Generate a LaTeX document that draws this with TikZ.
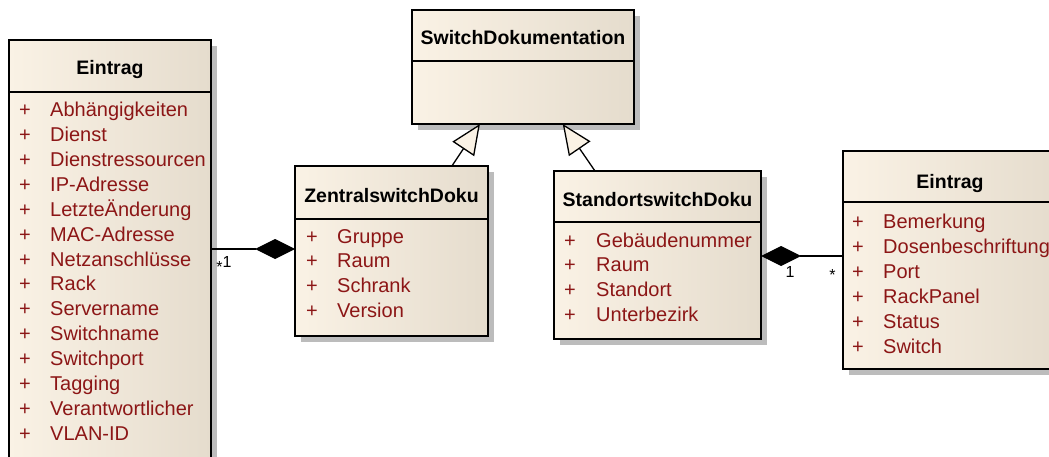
\documentclass[tikz,border=0pt]{standalone}
\usepackage{fontspec}
\setmainfont{Liberation Sans}
\usetikzlibrary{arrows.meta,shadows,calc}

\definecolor{clsleft}{RGB}{250,242,229}
\definecolor{clsright}{RGB}{229,220,205}
\definecolor{attrred}{RGB}{140,22,22}
\definecolor{shadowgray}{RGB}{188,188,188}
\definecolor{tipfill}{RGB}{250,242,229}

\tikzset{
  cls/.style={draw=black, line width=1.4pt, left color=clsleft, right color=clsright,
    inner sep=0pt, outer sep=0pt, anchor=north west,
    general shadow={fill=shadowgray, shadow xshift=6pt, shadow yshift=-6pt}},
  sepline/.style={line width=1.4pt},
  clstitle/.style={font=\fontsize{19.5}{23}\selectfont\bfseries, anchor=base, inner sep=0pt},
  attr/.style={font=\fontsize{20}{24}\selectfont, text=attrred, anchor=base west, inner sep=0pt},
  mult/.style={font=\fontsize{16}{18}\selectfont, inner sep=0pt},
  gen/.style={line width=1.3pt, -{Triangle[length=30pt,width=26pt,fill=tipfill]}},
  comp/.style={line width=1.3pt, {Diamond[length=40pt,width=20pt]}-},
}

\begin{document}
\begin{tikzpicture}[x=1pt,y=-1pt]
\useasboundingbox (0,0) rectangle (1049,457);
\clip (0,0) rectangle (1049,457);

% ---- class boxes ----
\node[cls, minimum width=202pt, minimum height=430pt] (eL) at (9,40) {};
\node[cls, minimum width=222pt, minimum height=114pt] (sd) at (412,10) {};
\node[cls, minimum width=193pt, minimum height=170pt] (zen) at (295,166) {};
\node[cls, minimum width=207pt, minimum height=168pt] (std) at (554,171) {};
\node[cls, minimum width=214pt, minimum height=218pt] (eR) at (843,151) {};

% ---- compartment separators ----
\draw[sepline] (9,92) -- (211,92);
\draw[sepline] (412,61) -- (634,61);
\draw[sepline] (295,219) -- (488,219);
\draw[sepline] (554,222) -- (761,222);
\draw[sepline] (843,202) -- (1057,202);

% ---- class names ----
\node[clstitle] (eLt) at (110,75) {Eintrag};
\node[clstitle] (sdt) at (523,45) {SwitchDokumentation};
\node[clstitle] (zent) at (391.5,203) {ZentralswitchDoku};
\node[clstitle] (stdt) at (657.5,207) {StandortswitchDoku};
\node[clstitle] (eRt) at (950,189) {Eintrag};

% ---- attributes ----
\foreach \t [count=\i] in {Abhängigkeiten, Dienst, Dienstressourcen, IP-Adresse,
    LetzteÄnderung, MAC-Adresse, Netzanschlüsse, Rack, Servername, Switchname,
    Switchport, Tagging, Verantwortlicher, VLAN-ID}
  \node[attr] (eLa\i) at (19,{117+24.85*(\i-1)}) {\makebox[31pt][l]{+}\t};

\foreach \t [count=\i] in {Gruppe, Raum, Schrank, Version}
  \node[attr] (zena\i) at (306,{243+24.8*(\i-1)}) {\makebox[31pt][l]{+}\t};

\foreach \t [count=\i] in {Gebäudenummer, Raum, Standort, Unterbezirk}
  \node[attr] (stda\i) at (564,{247+24.9*(\i-1)}) {\makebox[32pt][l]{+}\t};

\foreach \t [count=\i] in {Bemerkung, Dosenbeschriftung, Port, RackPanel, Status, Switch}
  \node[attr] (eRa\i) at (852,{228+25*(\i-1)}) {\makebox[31pt][l]{+}\t};

% ---- generalizations ----
\draw[gen] ($(zen.north west)!0.813!(zen.north east)$) -- ($(sd.south west)!0.306!(sd.south east)$);
\draw[gen] ($(std.north west)!0.198!(std.north east)$) -- ($(sd.south west)!0.679!(sd.south east)$);

% ---- compositions ----
\coordinate (yL) at (0,249);
\coordinate (yR) at (0,256);
\draw[comp] (zen.west |- yL) -- (eL.east |- yL);
\draw[comp] (std.east |- yR) -- (eR.west |- yR);

% ---- multiplicities ----
\node[mult] (mL1) at (219.5,267) {*};
\node[mult] (mL2) at (227,262) {1};
\node[mult] (mR1) at (790,272) {1};
\node[mult] (mR2) at (832.5,275) {*};
\end{tikzpicture}
\end{document}
